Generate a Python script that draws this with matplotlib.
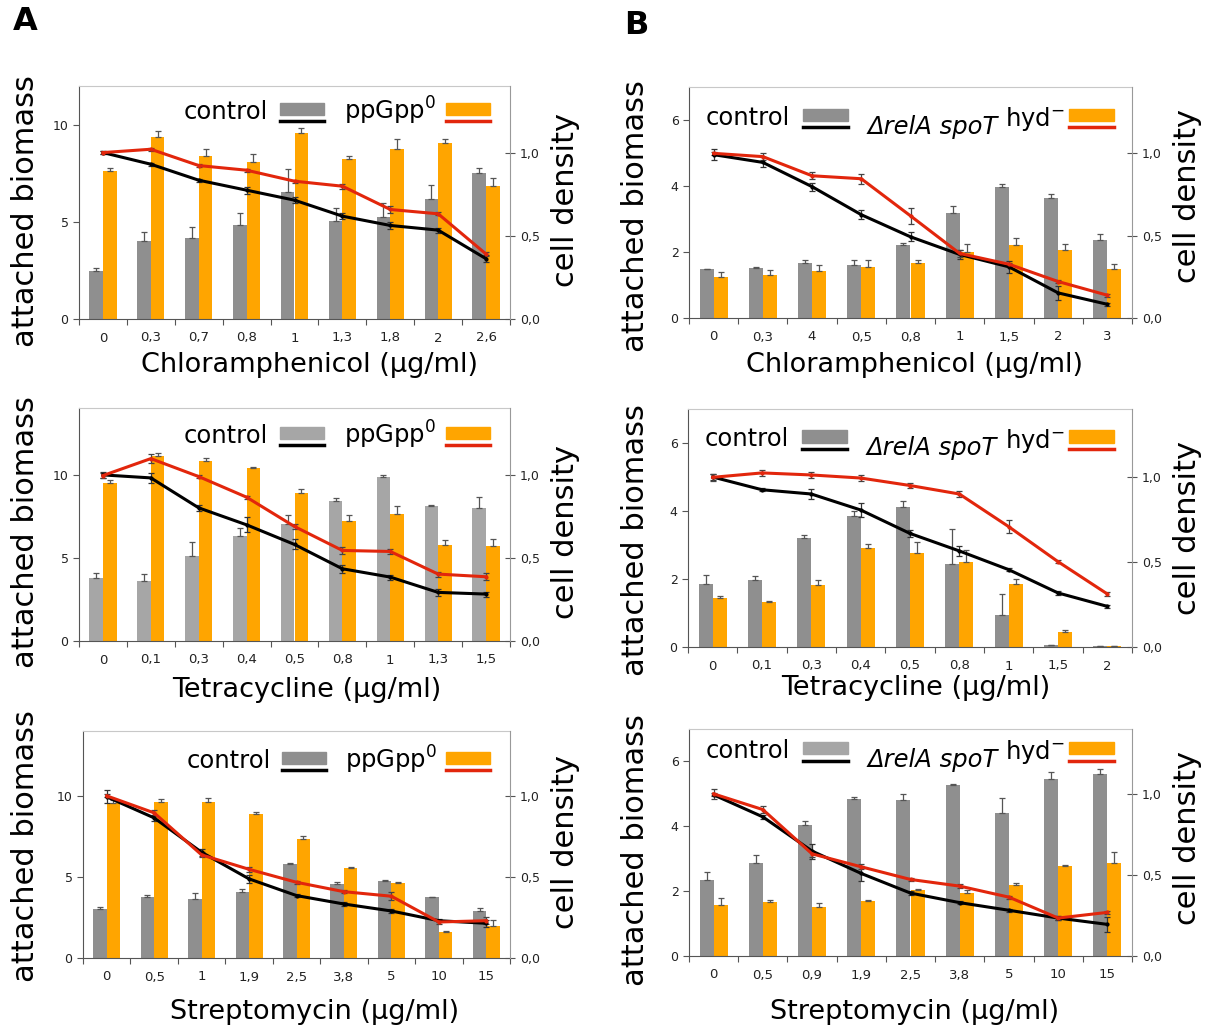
import numpy as np
import matplotlib.pyplot as plt
from matplotlib.patches import Rectangle
from matplotlib.lines import Line2D

plt.rcParams['font.family'] = ['DejaVu Sans']

W, H = 1211, 1030
GREY = '#8f8f8f'
LIGHT_GREY = '#a6a6a6'
ORANGE = '#ffa500'
RED = '#e2260c'

# ---- A, chloramphenicol ----
chl_a_labels = ['0', '0,3', '0,7', '0,8', '1', '1,3', '1,8', '2', '2,6']
chl_a_ctrl_bm = [2.48, 4.03, 4.17, 4.86, 6.55, 5.07, 5.24, 6.16, 7.53]
chl_a_ctrl_bm_err = [0.17, 0.45, 0.59, 0.61, 1.19, 0.65, 0.74, 0.75, 0.26]
chl_a_mut_bm = [7.60, 9.38, 8.41, 8.09, 9.60, 8.22, 8.78, 9.09, 6.84]
chl_a_mut_bm_err = [0.19, 0.28, 0.37, 0.43, 0.24, 0.19, 0.51, 0.20, 0.42]
chl_a_ctrl_od = [1.0, 0.93, 0.834, 0.774, 0.714, 0.618, 0.562, 0.534, 0.362]
chl_a_ctrl_od_err = [0.01, 0.01, 0.01, 0.02, 0.02, 0.02, 0.02, 0.015, 0.02]
chl_a_mut_od = [1.0, 1.02, 0.922, 0.894, 0.828, 0.798, 0.658, 0.632, 0.39]
chl_a_mut_od_err = [0.01, 0.01, 0.01, 0.01, 0.01, 0.015, 0.02, 0.01, 0.01]

# ---- A, tetracycline ----
tet_a_labels = ['0', '0,1', '0,3', '0,4', '0,5', '0,8', '1', '1,3', '1,5']
tet_a_ctrl_bm = [3.76, 3.62, 5.08, 6.32, 7.04, 8.44, 9.88, 8.12, 8.0]
tet_a_ctrl_bm_err = [0.34, 0.40, 0.86, 0.44, 0.54, 0.16, 0.08, 0.06, 0.64]
tet_a_mut_bm = [9.52, 11.14, 10.82, 10.4, 8.9, 7.2, 7.64, 5.78, 5.72]
tet_a_mut_bm_err = [0.16, 0.16, 0.18, 0.06, 0.24, 0.38, 0.48, 0.26, 0.42]
tet_a_ctrl_od = [0.998, 0.98, 0.8, 0.698, 0.58, 0.434, 0.384, 0.292, 0.282]
tet_a_ctrl_od_err = [0.02, 0.03, 0.02, 0.045, 0.03, 0.025, 0.015, 0.02, 0.015]
tet_a_mut_od = [0.994, 1.096, 0.988, 0.864, 0.688, 0.544, 0.538, 0.402, 0.386]
tet_a_mut_od_err = [0.015, 0.025, 0.01, 0.01, 0.015, 0.02, 0.015, 0.015, 0.02]

# ---- A, streptomycin ----
str_a_labels = ['0', '0,5', '1', '1,9', '2,5', '3,8', '5', '10', '15']
str_a_ctrl_bm = [3.05, 3.77, 3.66, 4.07, 5.78, 4.55, 4.77, 3.74, 2.92]
str_a_ctrl_bm_err = [0.10, 0.14, 0.37, 0.19, 0.10, 0.16, 0.04, 0.05, 0.19]
str_a_mut_bm = [9.57, 9.63, 9.63, 8.87, 7.33, 5.56, 4.61, 1.58, 1.98]
str_a_mut_bm_err = [0.15, 0.18, 0.25, 0.16, 0.22, 0.08, 0.06, 0.11, 0.35]
str_a_ctrl_od = [0.994, 0.864, 0.652, 0.488, 0.385, 0.333, 0.29, 0.23, 0.214]
str_a_ctrl_od_err = [0.04, 0.02, 0.02, 0.025, 0.01, 0.01, 0.01, 0.01, 0.02]
str_a_mut_od = [1.0, 0.895, 0.636, 0.547, 0.467, 0.409, 0.381, 0.222, 0.23]
str_a_mut_od_err = [0.01, 0.02, 0.015, 0.015, 0.01, 0.01, 0.025, 0.015, 0.02]

# ---- B, chloramphenicol ----
chl_b_labels = ['0', '0,3', '4', '0,5', '0,8', '1', '1,5', '2', '3']
chl_b_ctrl_bm = [1.48, 1.52, 1.67, 1.60, 2.21, 3.17, 3.98, 3.63, 2.36]
chl_b_ctrl_bm_err = [0.01, 0.02, 0.08, 0.17, 0.06, 0.22, 0.07, 0.12, 0.20]
chl_b_mut_bm = [1.24, 1.31, 1.42, 1.54, 1.66, 2.0, 2.21, 2.07, 1.5]
chl_b_mut_bm_err = [0.14, 0.13, 0.18, 0.21, 0.10, 0.23, 0.21, 0.18, 0.15]
chl_b_ctrl_od = [0.99, 0.943, 0.796, 0.626, 0.492, 0.385, 0.31, 0.152, 0.083]
chl_b_ctrl_od_err = [0.035, 0.03, 0.025, 0.026, 0.027, 0.025, 0.038, 0.043, 0.01]
chl_b_mut_od = [0.998, 0.978, 0.862, 0.844, 0.619, 0.391, 0.326, 0.221, 0.138]
chl_b_mut_od_err = [0.01, 0.02, 0.02, 0.03, 0.05, 0.02, 0.01, 0.01, 0.01]

# ---- B, tetracycline ----
tet_b_labels = ['0', '0,1', '0,3', '0,4', '0,5', '0,8', '1', '1,5', '2']
tet_b_ctrl_bm = [1.86, 1.97, 3.2, 3.84, 4.11, 2.45, 0.93, 0.05, 0.03]
tet_b_ctrl_bm_err = [0.27, 0.13, 0.08, 0.15, 0.18, 1.01, 0.62, 0.02, 0.0]
tet_b_mut_bm = [1.44, 1.32, 1.82, 2.92, 2.76, 2.5, 1.86, 0.44, 0.03]
tet_b_mut_bm_err = [0.07, 0.02, 0.14, 0.10, 0.32, 0.36, 0.14, 0.05, 0.0]
tet_b_ctrl_od = [1.0, 0.925, 0.9, 0.806, 0.668, 0.565, 0.455, 0.318, 0.239]
tet_b_ctrl_od_err = [0.02, 0.01, 0.028, 0.043, 0.02, 0.03, 0.01, 0.01, 0.01]
tet_b_mut_od = [0.998, 1.024, 1.012, 0.994, 0.95, 0.9, 0.708, 0.502, 0.312]
tet_b_mut_od_err = [0.02, 0.02, 0.02, 0.015, 0.015, 0.015, 0.038, 0.01, 0.01]

# ---- B, streptomycin ----
str_b_labels = ['0', '0,5', '0,9', '1,9', '2,5', '3,8', '5', '10', '15']
str_b_ctrl_bm = [2.34, 2.86, 4.03, 4.85, 4.8, 5.28, 4.42, 5.46, 5.6]
str_b_ctrl_bm_err = [0.24, 0.26, 0.14, 0.05, 0.21, 0.01, 0.45, 0.21, 0.17]
str_b_mut_bm = [1.57, 1.67, 1.5, 1.71, 2.05, 1.94, 2.19, 2.77, 2.88]
str_b_mut_bm_err = [0.21, 0.05, 0.13, 0.01, 0.01, 0.09, 0.05, 0.03, 0.34]
str_b_ctrl_od = [0.994, 0.858, 0.647, 0.509, 0.388, 0.329, 0.282, 0.234, 0.195]
str_b_ctrl_od_err = [0.01, 0.01, 0.046, 0.048, 0.01, 0.01, 0.01, 0.01, 0.044]
str_b_mut_od = [1.0, 0.903, 0.63, 0.55, 0.472, 0.431, 0.363, 0.234, 0.269]
str_b_mut_od_err = [0.033, 0.02, 0.02, 0.015, 0.01, 0.01, 0.01, 0.01, 0.01]

ytick_a = [0, 5, 10]
ytick_b = [0, 2, 4, 6]
od_ticks = [0.0, 0.5, 1.0]
od_labels = ['0,0', '0,5', '1,0']


def draw_panel(fig, box, labels, ctrl_bm, ctrl_bm_err, mut_bm, mut_bm_err,
               ctrl_od, ctrl_od_err, mut_od, mut_od_err, ymax, yticks,
               bar_grey, leg_grey, leg_top, panel):
    l, r, t, b = box
    ax = fig.add_axes([l / W, 1 - b / H, (r - l) / W, (b - t) / H])
    x = np.arange(len(labels))
    w = 0.285
    zeros = np.zeros(len(x))
    ekw = dict(ecolor='#555555', elinewidth=0.9, capsize=2.5, capthick=0.9)
    ax.bar(x - w / 2, ctrl_bm, w, color=bar_grey,
           yerr=[zeros, ctrl_bm_err], error_kw=ekw)
    ax.bar(x + w / 2, mut_bm, w, color=ORANGE,
           yerr=[zeros, mut_bm_err], error_kw=ekw)
    ax.set_xlim(-0.5, len(x) - 0.5)
    ax.set_ylim(0, ymax)
    ax.set_yticks(yticks)
    ax.set_yticklabels([str(v) for v in yticks])
    ax.set_xticks(np.arange(len(x) + 1) - 0.5)
    ax.set_xticklabels([])
    ax.set_xticks(x, minor=True)
    ax.set_xticklabels(labels, minor=True)
    ax.tick_params(axis='x', which='major', length=4, color='#555555')
    ax.tick_params(axis='x', which='minor', length=0, pad=9,
                   labelsize=9.5, labelcolor='#222222')
    ax.tick_params(axis='y', length=4, color='#555555', labelsize=9,
                   labelcolor='#222222')
    for s in ['left', 'bottom']:
        ax.spines[s].set_color('#555555')
    ax.spines['top'].set_color('#c8c8c8')
    ax.spines['right'].set_visible(False)

    ax2 = ax.twinx()
    ax2.errorbar(x, ctrl_od, yerr=ctrl_od_err, color='black', lw=2.2,
                 marker='.', ms=4, ecolor='#333333', elinewidth=0.9,
                 capsize=2, capthick=0.9)
    ax2.errorbar(x, mut_od, yerr=mut_od_err, color=RED, lw=2.2,
                 marker='.', ms=4, ecolor='#444444', elinewidth=0.9,
                 capsize=2, capthick=0.9)
    ax2.set_ylim(0, 1.4)
    ax2.set_yticks(od_ticks)
    ax2.set_yticklabels(od_labels)
    ax2.tick_params(axis='y', direction='inout', length=7, color='#555555',
                    labelsize=9, labelcolor='#222222')
    ax2.spines['right'].set_color('#999999')
    for s in ['left', 'bottom', 'top']:
        ax2.spines[s].set_visible(False)

    # hand-made legend
    tr = ax2.transAxes
    bh = 0.053
    if panel == 'A':
        ax2.text(0.243, leg_top - 0.07, 'control', transform=tr,
                 fontsize=17.5, va='baseline')
        gx, ox = 0.466, 0.851
        ax2.text(0.614, leg_top - 0.074, 'ppGpp$^{0}$', transform=tr,
                 fontsize=17.5, va='baseline')
    else:
        ax2.text(0.038, leg_top - 0.069, 'control', transform=tr,
                 fontsize=17.5, va='baseline')
        gx, ox = 0.257, 0.857
        ax2.text(0.403, leg_top - 0.107, '\u0394relA spoT', transform=tr,
                 fontsize=17.5, va='baseline', style='italic')
        ax2.text(0.714, leg_top - 0.075, 'hyd$^{-}$', transform=tr,
                 fontsize=17.5, va='baseline')
    ax2.add_patch(Rectangle((gx, leg_top - bh), 0.102, bh, transform=tr,
                            color=leg_grey, clip_on=False))
    ax2.add_patch(Rectangle((ox, leg_top - bh), 0.102, bh, transform=tr,
                            color=ORANGE, clip_on=False))
    ax2.add_line(Line2D([gx, gx + 0.102], [leg_top - bh - 0.027] * 2,
                        transform=tr, color='black', lw=2.5))
    ax2.add_line(Line2D([ox, ox + 0.102], [leg_top - bh - 0.027] * 2,
                        transform=tr, color=RED, lw=2.5))
    return ax, ax2


def fig_text(fig, px, py, s, **kw):
    fig.text(px / W, 1 - py / H, s, ha='center', va='center', **kw)


fig = plt.figure(figsize=(W / 100, H / 100), dpi=100)

draw_panel(fig, (79, 510, 86, 319), chl_a_labels, chl_a_ctrl_bm, chl_a_ctrl_bm_err,
           chl_a_mut_bm, chl_a_mut_bm_err, chl_a_ctrl_od, chl_a_ctrl_od_err,
           chl_a_mut_od, chl_a_mut_od_err, 12, ytick_a, GREY, GREY, 0.928, 'A')
draw_panel(fig, (79, 510, 408, 641), tet_a_labels, tet_a_ctrl_bm, tet_a_ctrl_bm_err,
           tet_a_mut_bm, tet_a_mut_bm_err, tet_a_ctrl_od, tet_a_ctrl_od_err,
           tet_a_mut_od, tet_a_mut_od_err, 14, ytick_a, LIGHT_GREY, LIGHT_GREY, 0.92, 'A')
draw_panel(fig, (83, 510, 731, 958), str_a_labels, str_a_ctrl_bm, str_a_ctrl_bm_err,
           str_a_mut_bm, str_a_mut_bm_err, str_a_ctrl_od, str_a_ctrl_od_err,
           str_a_mut_od, str_a_mut_od_err, 14, ytick_a, GREY, GREY, 0.909, 'A')
draw_panel(fig, (689, 1132, 87, 318), chl_b_labels, chl_b_ctrl_bm, chl_b_ctrl_bm_err,
           chl_b_mut_bm, chl_b_mut_bm_err, chl_b_ctrl_od, chl_b_ctrl_od_err,
           chl_b_mut_od, chl_b_mut_od_err, 7, ytick_b, GREY, GREY, 0.905, 'B')
draw_panel(fig, (688, 1132, 409, 647), tet_b_labels, tet_b_ctrl_bm, tet_b_ctrl_bm_err,
           tet_b_mut_bm, tet_b_mut_bm_err, tet_b_ctrl_od, tet_b_ctrl_od_err,
           tet_b_mut_od, tet_b_mut_od_err, 7, ytick_b, GREY, GREY, 0.912, 'B')
draw_panel(fig, (689, 1132, 729, 956), str_b_labels, str_b_ctrl_bm, str_b_ctrl_bm_err,
           str_b_mut_bm, str_b_mut_bm_err, str_b_ctrl_od, str_b_ctrl_od_err,
           str_b_mut_od, str_b_mut_od_err, 7, ytick_b, GREY, LIGHT_GREY, 0.941, 'B')

# axis titles
xlabels = [(310, 365, 'Chloramphenicol (\u00b5g/ml)'), (307, 690, 'Tetracycline (\u00b5g/ml)'),
           (315, 1012, 'Streptomycin (\u00b5g/ml)'), (915, 365, 'Chloramphenicol (\u00b5g/ml)'),
           (916, 688, 'Tetracycline (\u00b5g/ml)'), (915, 1012, 'Streptomycin (\u00b5g/ml)')]
for px, py, s in xlabels:
    fig_text(fig, px, py, s, fontsize=19.5)

for px, py in [(26, 211), (26, 532), (26, 846), (635, 216), (635, 540), (635, 850)]:
    fig_text(fig, px, py, 'attached biomass', fontsize=22, rotation=90)
for px, py in [(566, 200), (566, 532), (566, 842), (1187, 196), (1187, 528), (1187, 838)]:
    fig_text(fig, px, py, 'cell density', fontsize=22, rotation=90)

fig_text(fig, 25, 21, 'A', fontsize=23, fontweight='bold')
fig_text(fig, 636, 25, 'B', fontsize=23, fontweight='bold')

fig.savefig('out.png', dpi=100)
